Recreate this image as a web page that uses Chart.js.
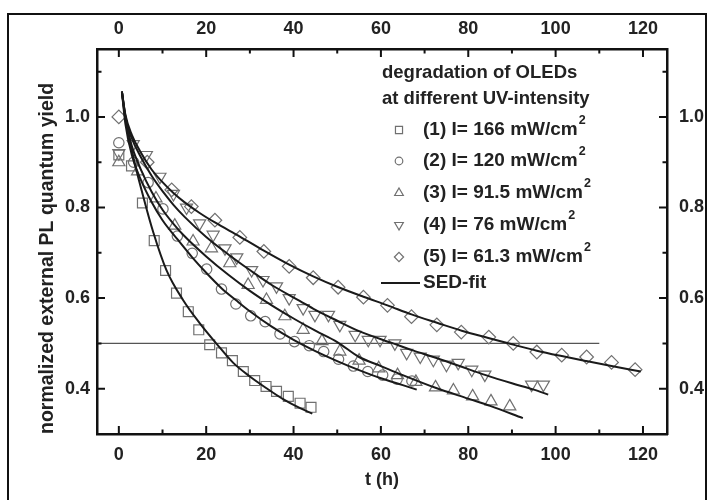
<!DOCTYPE html>
<html>
<head>
<meta charset="utf-8">
<title>OLED degradation</title>
<script src="https://cdn.jsdelivr.net/npm/chart.js@4.4.0/dist/chart.umd.min.js"></script>
<style>
    html, body { margin: 0; padding: 0; background: #fff; }
    #wrap { position: relative; width: 713px; height: 500px; overflow: hidden; }
    #outer { position: absolute; left: 7px; top: 13px; width: 700px; height: 520px; border: 2px solid #111; box-sizing: border-box; }
    #plChart { position: absolute; left: 0; top: 0; }
</style>
</head>
<body>
<div id="wrap">
    <div id="outer"></div>
    <canvas id="plChart" width="713" height="500"></canvas>
</div>
<script>
// axes
const xTickVals = [0, 10, 20, 30, 40, 50, 60, 70, 80, 90, 100, 110, 120];
const xLabelVals = [0, 20, 40, 60, 80, 100, 120];
const yTickVals = [0.4, 0.5, 0.6, 0.7, 0.8, 0.9, 1.0, 1.1];
const yLabelVals = [0.4, 0.6, 0.8, 1.0];

const legendTitle = ['degradation of OLEDs', 'at different UV-intensity'];
const seriesLabels = ['(1) I= 166 mW/cm²', '(2) I= 120 mW/cm²', '(3) I= 91.5 mW/cm²', '(4) I= 76 mW/cm²', '(5) I= 61.3 mW/cm²'];
const fitLabel = 'SED-fit';

// measured points, t in h
const t1 = [0, 2.9, 5.4, 8.1, 10.7, 13.2, 15.9, 18.3, 20.8, 23.5, 26, 28.5, 31.1, 33.7, 36.1, 38.8, 41.5, 44];
const y1 = [0.916, 0.892, 0.81, 0.727, 0.661, 0.611, 0.57, 0.53, 0.497, 0.479, 0.462, 0.438, 0.418, 0.405, 0.394, 0.383, 0.368, 0.359];

const t2 = [0, 3.4, 6.7, 10.1, 13.4, 16.8, 20.1, 23.5, 26.8, 30.2, 33.5, 36.9, 40.2, 43.6, 46.9, 50.3, 53.7, 57, 60.4, 63.7, 67.1];
const y2 = [0.943, 0.9, 0.855, 0.797, 0.737, 0.699, 0.664, 0.62, 0.587, 0.561, 0.548, 0.521, 0.504, 0.495, 0.482, 0.465, 0.45, 0.438, 0.43, 0.421, 0.417];

const t3 = [0, 4.3, 8.5, 12.8, 17, 21.2, 25.4, 29.6, 33.8, 38, 42.2, 46.5, 50.6, 55, 59.5, 63.8, 68, 72.5, 76.6, 81, 85.2, 89.5];
const y3 = [0.9, 0.88, 0.82, 0.76, 0.725, 0.71, 0.677, 0.629, 0.596, 0.56, 0.53, 0.505, 0.482, 0.462, 0.445, 0.43, 0.415, 0.403, 0.396, 0.383, 0.372, 0.361];

const t4 = [0, 3.3, 6.3, 9.4, 12.5, 15.5, 18.5, 21.6, 24.3, 27, 30.4, 33, 36.1, 39, 42.2, 44.9, 48, 50.6, 54.1, 57.1, 59.8, 63.2, 65.9, 69, 72, 75, 77.7, 80.8, 83.8, 94.5, 97.2];
const y4 = [0.92, 0.94, 0.916, 0.868, 0.83, 0.8, 0.765, 0.74, 0.71, 0.69, 0.662, 0.64, 0.626, 0.6, 0.578, 0.563, 0.563, 0.541, 0.519, 0.508, 0.508, 0.5, 0.479, 0.471, 0.464, 0.453, 0.457, 0.442, 0.431, 0.409, 0.409];

const t5 = [0, 6.5, 12.1, 16.6, 22, 27.7, 33.2, 39, 44.5, 50.2, 56, 61.5, 67, 72.8, 78.4, 84.7, 90.3, 95.7, 101.4, 107.1, 112.8, 118.2];
const y5 = [1.0, 0.9, 0.839, 0.802, 0.772, 0.734, 0.703, 0.67, 0.645, 0.624, 0.602, 0.584, 0.559, 0.541, 0.525, 0.514, 0.5, 0.481, 0.474, 0.47, 0.458, 0.442];

// SED fit curves
const fitT1 = [0.7, 1.4, 3.3, 5.6, 7.9, 10.9, 14.7, 18.5, 22.4, 26.2, 30, 33.8, 37.6, 41.5, 44.3];
const fitY1 = [1.056, 1.008, 0.912, 0.824, 0.745, 0.662, 0.596, 0.545, 0.499, 0.457, 0.427, 0.401, 0.377, 0.357, 0.345];

const fitT2 = [0.7, 1.5, 3, 5, 7.5, 10, 13.4, 16.8, 20, 23.5, 27, 30, 35, 40, 45, 50, 55, 60, 65, 68.2];
const fitY2 = [1.056, 0.985, 0.915, 0.862, 0.812, 0.772, 0.73, 0.69, 0.656, 0.622, 0.594, 0.571, 0.537, 0.508, 0.483, 0.461, 0.441, 0.423, 0.408, 0.398];

const fitT3 = [0.7, 1.5, 3, 5, 7.5, 10, 12.5, 15, 20, 25, 30, 35, 40, 45, 50, 55, 60, 65, 72.5, 80, 85, 92.5];
const fitY3 = [1.056, 0.995, 0.935, 0.885, 0.835, 0.795, 0.764, 0.737, 0.692, 0.652, 0.616, 0.584, 0.555, 0.528, 0.503, 0.47, 0.45, 0.43, 0.402, 0.378, 0.362, 0.335];

const fitT4 = [0.7, 1.5, 3, 5, 7.5, 10, 12.5, 15, 20, 25, 30, 35, 41.4, 45, 50, 55, 62.8, 67.5, 72, 78, 84, 90, 95, 98.3];
const fitY4 = [1.056, 1.0, 0.952, 0.912, 0.87, 0.836, 0.806, 0.78, 0.735, 0.697, 0.662, 0.629, 0.594, 0.574, 0.55, 0.527, 0.5, 0.484, 0.47, 0.45, 0.43, 0.412, 0.398, 0.387];

const fitT5 = [0.7, 1.5, 3, 5, 7.5, 10, 12.5, 15, 18.5, 22, 27.7, 33, 39, 44.5, 50, 56, 61.5, 67, 73, 78.5, 84.6, 90, 95.7, 101.4, 107, 112.8, 119.5];
const fitY5 = [1.056, 1.005, 0.96, 0.922, 0.884, 0.856, 0.832, 0.812, 0.788, 0.767, 0.736, 0.706, 0.674, 0.648, 0.625, 0.603, 0.584, 0.564, 0.545, 0.528, 0.512, 0.498, 0.484, 0.472, 0.461, 0.45, 0.438];

// half-level reference line
const halfT = [-5, 110];
const halfY = [0.5, 0.5];

const X_MIN = -5, X_MAX = 125.5;
const Y_MIN = 0.30, Y_MAX = 1.15;

const narrowFont = '"Liberation Sans Narrow", "Liberation Sans", Arial, sans-serif';
const sansFont = '"Liberation Sans", Arial, sans-serif';
const textColor = '#222';
const markerColor = '#707070';

const toXY = (ts, ys) => ts.map((t, i) => ({ x: t, y: ys[i] }));

class ChartManager {
    constructor() {
        this.init();
    }

    init() {
        this.createDegradationChart();
    }

    markerSet(label, ts, ys, style, radius, rotation) {
        return {
            label: label,
            data: toXY(ts, ys),
            showLine: false,
            pointStyle: style,
            pointRotation: rotation || 0,
            pointRadius: radius,
            pointBorderWidth: 1.2,
            pointBorderColor: markerColor,
            pointBackgroundColor: 'rgba(255,255,255,0)',
            order: 2
        };
    }

    fitSet(ts, ys) {
        return {
            label: fitLabel,
            data: toXY(ts, ys),
            showLine: true,
            borderColor: '#1a1a1a',
            borderWidth: 2,
            pointRadius: 0,
            cubicInterpolationMode: 'monotone',
            order: 1
        };
    }

    scaleOpts(position, ticks, labels, fmt, size, title) {
        const horizontal = position === 'top' || position === 'bottom';
        return {
            type: 'linear',
            position: position,
            min: horizontal ? X_MIN : Y_MIN,
            max: horizontal ? X_MAX : Y_MAX,
            grid: { display: false, drawTicks: false },
            border: { display: true, color: '#111', width: 2.5 },
            afterBuildTicks: (scale) => {
                scale.ticks = ticks.map(v => ({ value: v }));
            },
            afterFit: (scale) => {
                if (horizontal) scale.height = size; else scale.width = size;
            },
            ticks: {
                autoSkip: false,
                maxRotation: 0,
                minRotation: 0,
                padding: position === 'bottom' ? 10 : (position === 'top' ? 9 : (position === 'left' ? 7 : 12)),
                color: textColor,
                font: { family: narrowFont, size: 18, weight: 'bold' },
                callback: (v) => labels.some(l => Math.abs(l - v) < 1e-9) ? fmt(v) : ''
            },
            title: title || { display: false }
        };
    }

    createDegradationChart() {
        const ctx = document.getElementById('plChart');
        if (!ctx) return;

        const datasets = [
            {
                label: 'half',
                data: toXY(halfT, halfY),
                showLine: true,
                borderColor: '#555',
                borderWidth: 1.2,
                pointRadius: 0,
                order: 3
            },
            this.fitSet(fitT1, fitY1),
            this.fitSet(fitT2, fitY2),
            this.fitSet(fitT3, fitY3),
            this.fitSet(fitT4, fitY4),
            this.fitSet(fitT5, fitY5),
            this.markerSet(seriesLabels[0], t1, y1, 'rect', 7),
            this.markerSet(seriesLabels[1], t2, y2, 'circle', 5.2),
            this.markerSet(seriesLabels[2], t3, y3, 'triangle', 7),
            this.markerSet(seriesLabels[3], t4, y4, 'triangle', 7, 180),
            this.markerSet(seriesLabels[4], t5, y5, 'rectRot', 6.8)
        ];

        // ticks pointing into the plot, long on labelled values
        const inwardTicks = {
            id: 'inwardTicks',
            afterDraw(chart) {
                const c = chart.ctx, a = chart.chartArea;
                c.save();
                c.strokeStyle = '#111';
                c.lineWidth = 2;
                c.beginPath();
                ['x', 'x2', 'y', 'y2'].forEach(id => {
                    const s = chart.scales[id];
                    s.ticks.forEach(t => {
                        const p = s.getPixelForValue(t.value);
                        const len = t.label ? 8 : 4.5;
                        if (id === 'x') { c.moveTo(p, a.bottom); c.lineTo(p, a.bottom - len); }
                        if (id === 'x2') { c.moveTo(p, a.top); c.lineTo(p, a.top + len); }
                        if (id === 'y') { c.moveTo(a.left, p); c.lineTo(a.left + len, p); }
                        if (id === 'y2') { c.moveTo(a.right, p); c.lineTo(a.right - len, p); }
                    });
                });
                c.stroke();
                c.restore();
            }
        };

        // legend block inside the plot
        const oledLegend = {
            id: 'oledLegend',
            afterDraw(chart) {
                const c = chart.ctx;
                const a = chart.chartArea;
                const x0 = a.left + 285;
                const markX = a.left + 302;
                const textX = a.left + 326;
                c.save();
                c.fillStyle = textColor;
                c.textBaseline = 'middle';
                c.textAlign = 'left';
                c.font = 'bold 18.5px ' + sansFont;
                c.fillText(legendTitle[0], x0, 73);
                c.fillText(legendTitle[1], x0, 99);

                const rows = [130, 161, 193, 225, 257];
                const markerSets = chart.data.datasets.filter(d => d.order === 2);
                const sizes = [5, 3.8, 5, 5, 4.6];
                markerSets.forEach((d, i) => {
                    const y = rows[i];
                    c.strokeStyle = markerColor;
                    c.fillStyle = 'rgba(255,255,255,0)';
                    c.lineWidth = 1.2;
                    Chart.helpers.drawPoint(c, {
                        pointStyle: d.pointStyle,
                        rotation: d.pointRotation,
                        radius: sizes[i],
                        borderWidth: 1.2
                    }, markX, y);
                    const parts = d.label.split('²');
                    c.fillStyle = textColor;
                    c.font = 'bold 19px ' + sansFont;
                    c.fillText(parts[0], textX, y);
                    const w = c.measureText(parts[0]).width;
                    c.font = 'bold 12.5px ' + sansFont;
                    c.fillText('2', textX + w + 1, y - 9);
                });

                const fy = 283;
                c.strokeStyle = '#1a1a1a';
                c.lineWidth = 2;
                c.beginPath();
                c.moveTo(a.left + 284, fy);
                c.lineTo(a.left + 323, fy);
                c.stroke();
                c.fillStyle = textColor;
                c.font = 'bold 19px ' + sansFont;
                c.fillText(fitLabel, textX, fy);
                c.restore();
            }
        };

        const config = {
            type: 'scatter',
            data: { datasets: datasets },
            options: {
                responsive: false,
                animation: false,
                layout: { padding: 0 },
                plugins: {
                    legend: { display: false },
                    tooltip: { enabled: false }
                },
                scales: {
                    x: this.scaleOpts('bottom', xTickVals, xLabelVals, v => String(v), 66, {
                        display: true,
                        text: 't (h)',
                        color: textColor,
                        font: { family: narrowFont, size: 18, weight: 'bold' },
                        padding: { top: 0, bottom: 9 }
                    }),
                    x2: this.scaleOpts('top', xTickVals, xLabelVals, v => String(v), 49),
                    y: this.scaleOpts('left', yTickVals, yLabelVals, v => v.toFixed(1), 97, {
                        display: true,
                        text: 'normalized external PL quantum yield',
                        align: 'start',
                        color: textColor,
                        font: { family: sansFont, size: 19.5, weight: 'bold' },
                        padding: { top: 36, bottom: 0 }
                    }),
                    y2: this.scaleOpts('right', yTickVals, yLabelVals, v => v.toFixed(1), 46)
                }
            },
            plugins: [inwardTicks, oledLegend]
        };

        new Chart(ctx, config);
    }
}

document.addEventListener('DOMContentLoaded', () => {
    new ChartManager();
});
</script>
</body>
</html>
